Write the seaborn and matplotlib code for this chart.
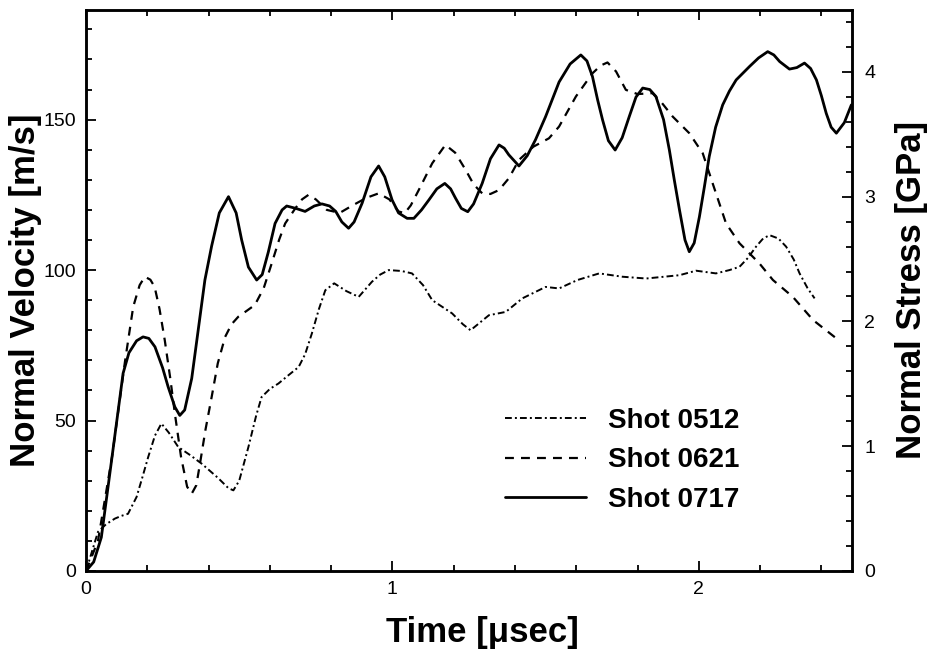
import pandas as pd
import matplotlib
matplotlib.use("Agg")
import matplotlib.pyplot as plt
from matplotlib.ticker import MultipleLocator
import seaborn as sns

# Shot 0717 (solid)
t_0717 = [0.0, 0.025, 0.05, 0.085, 0.121, 0.14, 0.165, 0.186, 0.205, 0.225, 0.25,
          0.268, 0.29, 0.306, 0.322, 0.345, 0.37, 0.388, 0.41, 0.435, 0.465, 0.49,
          0.508, 0.53, 0.557, 0.575, 0.595, 0.617, 0.64, 0.655, 0.685, 0.715, 0.745,
          0.77, 0.795, 0.815, 0.835, 0.857, 0.875, 0.901, 0.93, 0.955, 0.975, 0.999,
          1.02, 1.048, 1.07, 1.095, 1.119, 1.145, 1.171, 1.19, 1.206, 1.225, 1.246,
          1.265, 1.293, 1.32, 1.348, 1.365, 1.38, 1.413, 1.44, 1.467, 1.5, 1.544,
          1.58, 1.615, 1.635, 1.653, 1.67, 1.686, 1.705, 1.727, 1.75, 1.773, 1.795,
          1.817, 1.84, 1.86, 1.885, 1.904, 1.92, 1.937, 1.955, 1.969, 1.985, 2.002,
          2.018, 2.034, 2.055, 2.078, 2.1, 2.122, 2.166, 2.195, 2.225, 2.245, 2.264,
          2.296, 2.32, 2.345, 2.365, 2.384, 2.4, 2.416, 2.432, 2.449, 2.475, 2.498]
v_0717 = [0, 3, 11.2, 38, 65.7, 72.5, 76.5, 77.8, 77.3, 74.5, 67.5,
          61.2, 54.5, 51.7, 53.5, 64, 83, 96.7, 108, 119, 124.4, 119,
          110, 101, 96.7, 98.5, 106, 115.5, 120, 121.3, 120.5, 119.5, 121.3,
          122, 121.3, 119.5, 116, 113.9, 116, 122.2, 131, 134.6, 131, 123.3,
          119, 117.2, 117.2, 120, 123.3, 127, 128.8, 127, 123.9, 120.5, 119.4,
          122, 128.8, 137, 141.6, 140.5, 138.3, 134.6, 138, 143.3, 151, 162.5,
          168.5, 171.5, 169.5, 164.3, 156.5, 149.9, 143, 139.9, 144, 151, 157.5,
          160.5, 160, 157.7, 150, 139.9, 130, 120, 110, 106.1, 109, 117.7,
          127.5, 137.7, 147.5, 154.9, 159.5, 163.2, 167.7, 170.5, 172.6, 171.5, 169.3,
          166.8, 167.3, 168.8, 167, 163.2, 158, 152.1, 147.5, 145.5, 149, 154.9]

# Shot 0621 (dashed)
t_0621 = [0.0, 0.039, 0.085, 0.127, 0.154, 0.175, 0.192, 0.21, 0.224, 0.24, 0.257,
          0.275, 0.29, 0.31, 0.33, 0.345, 0.36, 0.372, 0.39, 0.41, 0.43, 0.454,
          0.475, 0.497, 0.525, 0.551, 0.58, 0.606, 0.63, 0.65, 0.683, 0.705, 0.726,
          0.75, 0.786, 0.828, 0.87, 0.915, 0.955, 0.99, 1.02, 1.04, 1.06, 1.086,
          1.13, 1.173, 1.205, 1.239, 1.265, 1.293, 1.32, 1.348, 1.38, 1.413, 1.46,
          1.511, 1.544, 1.599, 1.653, 1.68, 1.702, 1.73, 1.762, 1.8, 1.849, 1.88,
          1.915, 1.969, 2.013, 2.045, 2.089, 2.133, 2.198, 2.242, 2.307, 2.373, 2.449]
v_0621 = [0, 10, 38, 69.5, 87.8, 95, 97.8, 96.8, 94.4, 87, 76.7,
          64, 52.3, 38, 28, 25.7, 28.5, 35.7, 47, 57.8, 69, 77.8,
          82, 84.5, 86.5, 88.4, 94, 102.2, 110, 115.5, 120.5, 123.5, 125,
          123.5, 120, 119, 121.5, 124, 125.5, 123.5, 119.5, 118.9, 121.5, 126.6,
          135.5, 141.6, 139, 133.3, 128.5, 125.5, 125.3, 126.6, 130.5, 136.6, 141,
          143.8, 147.7, 157.7, 165.4, 168, 169, 166, 159.9, 158.5, 158.8, 155.5,
          151, 145.5, 138.8, 128.9, 115.5, 108.9, 102.2, 96.7, 91.1, 83.4, 77.3]

# Shot 0512 (dash-dot)
t_0512 = [0.0, 0.039, 0.065, 0.094, 0.115, 0.137, 0.165, 0.185, 0.203, 0.225, 0.246,
          0.27, 0.301, 0.34, 0.377, 0.43, 0.465, 0.481, 0.5, 0.53, 0.555, 0.573,
          0.6, 0.628, 0.66, 0.694, 0.715, 0.737, 0.76, 0.781, 0.81, 0.85, 0.89,
          0.933, 0.96, 0.988, 1.03, 1.064, 1.1, 1.13, 1.195, 1.23, 1.255, 1.285,
          1.315, 1.37, 1.424, 1.5, 1.544, 1.604, 1.675, 1.75, 1.828, 1.937, 1.991,
          2.056, 2.1, 2.133, 2.16, 2.187, 2.21, 2.231, 2.26, 2.285, 2.31, 2.329,
          2.355, 2.378]
v_0512 = [0, 13, 15.5, 17.4, 18.3, 19, 24.6, 31.5, 37.9, 45, 49,
          46, 41.2, 38.5, 35.7, 31, 27.5, 26.8, 30, 41.2, 51.5, 57.8,
          60.5, 62.3, 65, 67.8, 72, 78.9, 87, 93.3, 95.6, 93, 91.1,
          96.1, 98.5, 100, 99.7, 98.9, 95, 90, 85.6, 82, 80, 82.5,
          85, 86.1, 90.6, 94.4, 93.9, 96.7, 98.9, 97.8, 97.2, 98.3, 99.8,
          98.9, 100, 101.1, 104, 107.8, 110.5, 111.6, 110.5, 107.8, 103.5, 98.9,
          94, 90.6]

shots = ["Shot 0512", "Shot 0621", "Shot 0717"]

sns.set_style("ticks")
plt.rcParams['font.family'] = ['Liberation Sans', 'DejaVu Sans']
for key in ['text.color', 'axes.labelcolor', 'xtick.color', 'ytick.color',
            'axes.edgecolor']:
    plt.rcParams[key] = 'black'

fig = plt.figure(figsize=(9.3, 6.56), dpi=100)
ax = fig.add_axes([0.0925, 0.1296, 0.8236, 0.8559])

styles = {
    "Shot 0512": dict(lw=1.4, linestyle=(0, (3.5, 1.6, 1.0, 1.6))),
    "Shot 0621": dict(lw=1.6, linestyle=(0, (4.0, 3.2))),
    "Shot 0717": dict(lw=2.0, linestyle='-'),
}
series = {
    "Shot 0512": (t_0512, v_0512),
    "Shot 0621": (t_0621, v_0621),
    "Shot 0717": (t_0717, v_0717),
}

for name in shots:
    t, v = series[name]
    df = pd.DataFrame({'time': t, 'velocity': v})
    sns.lineplot(data=df, x='time', y='velocity', ax=ax, color='black',
                 estimator=None, sort=False, label=name,
                 solid_joinstyle='round', dash_joinstyle='round', **styles[name])

ax.set_xlim(0, 2.5)
ax.set_ylim(0, 186.6)
ax.xaxis.set_major_locator(MultipleLocator(1))
ax.xaxis.set_minor_locator(MultipleLocator(0.2))
ax.yaxis.set_major_locator(MultipleLocator(50))
ax.yaxis.set_minor_locator(MultipleLocator(10))
ax.tick_params(which='both', direction='in', top=True, right=False, width=1.3,
               labelsize=14, pad=7)
ax.tick_params(which='major', length=7)
ax.tick_params(which='minor', length=4.5)
for s in ax.spines.values():
    s.set_linewidth(1.8)

ax.set_xlabel("Time [\u03bcsec]", fontsize=25, fontweight='bold')
ax.xaxis.set_label_coords(0.517, -0.08)
ax.set_ylabel("Normal Velocity [m/s]", fontsize=25, fontweight='bold', labelpad=1)

ax2 = ax.twinx()
ax2.set_ylim(0, 4.5)
ax2.yaxis.set_major_locator(MultipleLocator(1))
ax2.yaxis.set_minor_locator(MultipleLocator(0.2))
ax2.tick_params(which='both', direction='in', width=1.3, labelsize=14, pad=9)
ax2.tick_params(which='major', length=7)
ax2.tick_params(which='minor', length=4.5)
ax2.set_ylabel("Normal Stress [GPa]", fontsize=25, fontweight='bold',
               rotation=90, labelpad=14)
for s in ax2.spines.values():
    s.set_linewidth(1.8)

leg = ax.legend(loc='upper left', bbox_to_anchor=(0.547, 0.29), frameon=False,
                prop={'weight': 'bold', 'size': 20}, handlelength=2.9,
                handletextpad=0.8, labelspacing=0.48, borderpad=0,
                borderaxespad=0)

fig.savefig("out.png", dpi=100)
